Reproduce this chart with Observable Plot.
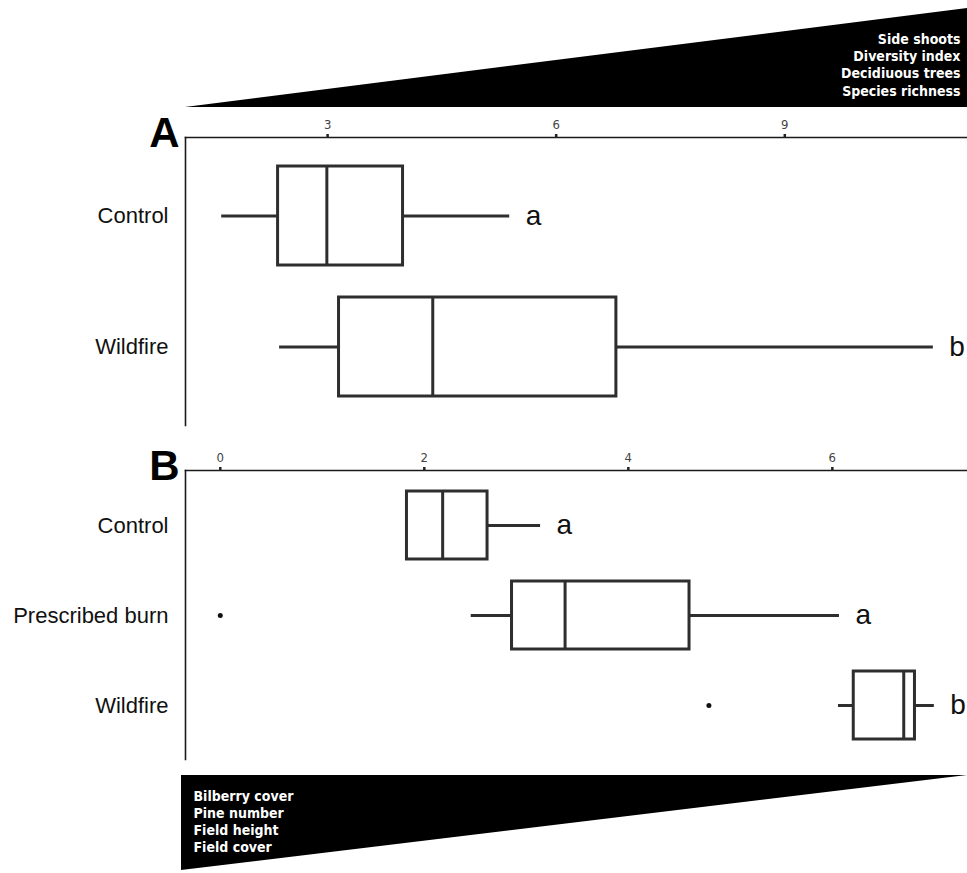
<!DOCTYPE html>
<html><head><meta charset="utf-8">
<script src="https://cdn.jsdelivr.net/npm/d3@7"></script>
<script src="https://cdn.jsdelivr.net/npm/@observablehq/plot@0.6"></script>
<style>
body{margin:0;background:#fff;}
#wrap{position:relative;width:967px;height:873px;overflow:hidden;background:#fff;}
#wrap > svg{position:absolute;left:0;}
</style></head><body><div id="wrap"></div>
<script>
// ---- data ----
const topTraits = ["Side shoots","Diversity index","Decidiuous trees","Species richness"];
const bottomTraits = ["Bilberry cover","Pine number","Field height","Field cover"];
const wedge = [0, 1];

const groupsA = ["Control","Wildfire"];
const lowA  = [1.61, 2.37];
const q1A   = [2.35, 3.15];
const medA  = [2.99, 4.38];
const q3A   = [3.99, 6.79];
const highA = [5.39, 10.95];
const letterA = ["a","b"];
const ticksA = [3, 6, 9];

const groupsB = ["Control","Prescribed burn","Wildfire"];
const lowB  = [1.83, 2.46, 6.06];
const q1B   = [1.83, 2.86, 6.21];
const medB  = [2.18, 3.38, 6.70];
const q3B   = [2.62, 4.60, 6.81];
const highB = [3.14, 6.07, 7.00];
const letterB = ["a","a","b"];
const outGroupB = ["Prescribed burn","Wildfire"];
const outValueB = [0.0, 4.79];
const ticksB = [0, 2, 4, 6];

const SANS = '"Liberation Sans", Arial, Helvetica, sans-serif';
const NARROW = '"Liberation Sans Narrow", "Arial Narrow", "DejaVu Sans Condensed", sans-serif';
const ink = "#2e2e2e";
const wrap = document.getElementById("wrap");

function place(svg, top){ svg.style.top = top + "px"; wrap.appendChild(svg); }

function panel(o){
  const rows = o.groups.map((g,i)=>({g, low:o.low[i], q1:o.q1[i], med:o.med[i], q3:o.q3[i], high:o.high[i], letter:o.letters[i]}));
  const outs = (o.outG||[]).map((g,i)=>({g, v:o.outV[i]}));
  return Plot.plot({
    width:967, height:o.height, marginLeft:185, marginRight:0, marginTop:37, marginBottom:5,
    style:{fontFamily:SANS, background:"transparent", overflow:"visible"},
    x:{domain:o.xDomain},
    y:{type:"band", domain:o.groups, range:o.yRange, paddingInner:o.padding, paddingOuter:0},
    marks:[
      Plot.frame({anchor:"top", stroke:"#1a1a1a", strokeWidth:1.6}),
      Plot.frame({anchor:"left", stroke:"#1a1a1a", strokeWidth:1.6}),
      Plot.axisX({anchor:"top", ticks:o.ticks, tickSize:4, tickPadding:4, strokeWidth:2.5,
                  stroke:"#222", label:null, text:null}),
      Plot.text(o.ticks, {x:d=>d, frameAnchor:"top", lineAnchor:"bottom", dy:-9, text:d=>String(d),
                  fontSize:13, fill:"#444", fontFamily:NARROW}),
      Plot.axisY({tickSize:0, tickPadding:17, fontSize:22, label:null, fill:"#111"}),
      Plot.ruleY(rows, {y:"g", x1:"low", x2:"high", stroke:ink, strokeWidth:3}),
      Plot.barX(rows, {y:"g", x1:"q1", x2:"q3", fill:"white", stroke:ink, strokeWidth:3}),
      Plot.tickX(rows, {y:"g", x:"med", stroke:ink, strokeWidth:3}),
      Plot.dot(outs, {y:"g", x:"v", r:2.5, fill:"#111", stroke:null}),
      Plot.text(rows, {y:"g", x:"high", text:"letter", dx:16, textAnchor:"start", fontSize:28, fill:"#111"}),
      Plot.text([o.label], {frameAnchor:"top-left", textAnchor:"end", lineAnchor:"bottom", dx:-6, dy:9,
                            fontSize:42, fontWeight:"bold", fill:"#000"})
    ]
  });
}

// top wedge
place(Plot.plot({
  width:967, height:110, marginLeft:185, marginRight:0, marginTop:8, marginBottom:3,
  style:{fontFamily:SANS, background:"transparent", overflow:"visible"},
  x:{domain:[0,1], axis:null}, y:{domain:[0,1], axis:null},
  marks:[
    Plot.areaY(wedge, {x:d=>d, y1:0, y2:d=>d, fill:"#000", curve:"linear"}),
    Plot.text([topTraits.join("\n")], {frameAnchor:"bottom-right", textAnchor:"end", lineAnchor:"bottom",
      dx:-7, dy:-12, lineHeight:1.22, fill:"#fff", fontWeight:"bold", fontSize:14, fontFamily:NARROW})
  ]
}), 0);

place(panel({groups:groupsA, low:lowA, q1:q1A, med:medA, q3:q3A, high:highA, letters:letterA,
  ticks:ticksA, xDomain:[1.135, 11.398], yRange:[66.2, 296.5], padding:0.244, label:"A", height:330}), 100);

place(panel({groups:groupsB, low:lowB, q1:q1B, med:medB, q3:q3B, high:highB, letters:letterB,
  outG:outGroupB, outV:outValueB, ticks:ticksB, xDomain:[-0.341, 7.325], yRange:[57.3, 306], padding:0.247,
  label:"B", height:331}), 433);

// bottom wedge
place(Plot.plot({
  width:967, height:103, marginLeft:181, marginRight:0, marginTop:5, marginBottom:3,
  style:{fontFamily:SANS, background:"transparent", overflow:"visible"},
  x:{domain:[0,1], axis:null}, y:{domain:[0,1], axis:null},
  marks:[
    Plot.areaY(wedge, {x:d=>d, y1:1, y2:d=>d, fill:"#000", curve:"linear"}),
    Plot.text([bottomTraits.join("\n")], {frameAnchor:"top-left", textAnchor:"start", lineAnchor:"top",
      dx:12, dy:13, lineHeight:1.22, fill:"#fff", fontWeight:"bold", fontSize:14, fontFamily:NARROW})
  ]
}), 770);
</script></body></html>
